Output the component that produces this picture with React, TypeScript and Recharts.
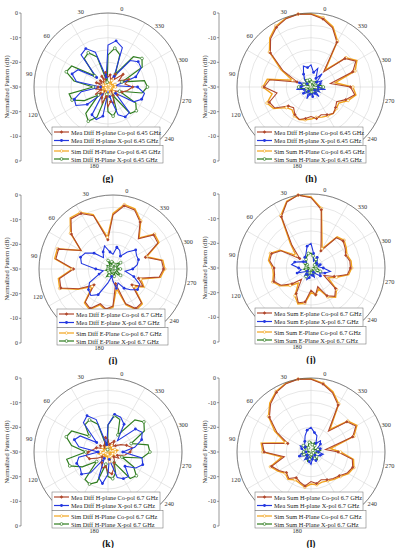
import React from "react";
import {
  PolarAngleAxis,
  PolarGrid,
  PolarRadiusAxis,
  Radar,
  RadarChart,
} from "recharts";

const angles = [0, 10, 20, 30, 40, 50, 60, 70, 80, 90, 100, 110, 120, 130, 140, 150, 160, 170, 180, 190, 200, 210, 220, 230, 240, 250, 260, 270, 280, 290, 300, 310, 320, 330, 340, 350];
const gridAngles = [0, 30, 60, 90, 120, 150, 180, 210, 240, 270, 300, 330];
const shownAngleLabels = [0, 30, 60, 90, 120, 180, 240, 270, 300, 330];
const dbTicks = [0, -10, -20, -30, -20, -10, 0];

// (g) Diff H-plane 6.45 GHz
const gMeaCo = [-24, -27, -25, -28, -26, -27, -25, -28, -26, -25, -27, -24, -26, -28, -25, -23, -26, -22, -24, -23, -26, -28, -25, -27, -24, -22, -20, -23, -21, -25, -22, -26, -24, -27, -25, -26];
const gMeaX = [-26, -15, -12, -13, -24, -16, -14.5, -17, -27, -19, -15.5, -15, -19, -27, -17, -16, -18, -28, -26, -18, -16, -16.5, -26, -18, -15.5, -15, -18, -27, -18, -14.5, -14, -16, -25, -13, -11, -13];
const gSimCo = [-28, -29, -28, -27, -29, -28, -28, -29, -27, -28, -29, -28, -27, -28, -29, -28, -27, -26, -27, -28, -29, -28, -27, -28, -29, -28, -27, -28, -27, -28, -29, -28, -27, -28, -29, -28];
const gSimX = [-28, -17, -14, -15, -23, -13, -12, -16, -24, -14, -14.5, -19, -25, -16, -14, -17, -27, -20, -18, -20, -26, -16, -15, -17, -25, -16, -14, -15, -24, -14, -12, -14, -24, -16, -14, -17];

// (h) Sum H-plane 6.45 GHz
const hMeaCo = [0, -0.5, -2, -4.5, -8.5, -17, -24, -13, -11, -16, -12, -13, -18, -19, -17, -16, -17, -18, -17, -18, -17, -16, -17, -18, -15, -12, -14, -22, -12, -9, -12, -22, -9, -4.5, -2, -0.5];
const hMeaX = [-22, -21, -24, -26, -28, -27, -25, -27, -26, -24, -27, -28, -26, -27, -28, -25, -27, -28, -26, -28, -27, -25, -28, -26, -27, -24, -27, -28, -26, -25, -27, -23, -26, -22, -24, -21];
const hSimCo = [0, -0.3, -1.5, -4, -8, -16, -22, -12, -10.5, -14, -11, -12.5, -17, -18, -16.5, -16, -16.5, -17, -17.5, -17, -16.5, -16, -16.5, -17, -14, -11.5, -13, -20, -11, -8.5, -11.5, -21, -8.5, -4, -1.5, -0.3];
const hSimX = [-27, -28, -27, -26, -28, -29, -27, -26, -25, -26, -28, -29, -28, -27, -28, -29, -28, -27, -28, -29, -28, -27, -28, -29, -27, -26, -25, -26, -28, -29, -28, -27, -28, -29, -28, -27];

// (i) Diff E-plane 6.7 GHz
const iMeaCo = [-18, -7, -4, -3.5, -8, -15, -6.5, -6.5, -14, -8, -7.5, -14, -20, -12.5, -11.5, -15, -13.5, -15, -24, -15, -11.5, -12, -20, -16, -19, -11, -9.5, -10, -16, -9, -8.5, -14, -8, -4.5, -4, -8];
const iMeaX = [-23, -20, -22, -24, -20, -17, -16, -17, -23, -26, -24, -19, -17, -16, -18, -24, -27, -25, -22, -24, -21, -19, -17, -17.5, -21, -25, -22, -20, -19, -19, -18, -21, -24, -22, -21, -24];
const iSimCo = [-17, -6.5, -3.5, -3, -7.5, -15, -6, -6, -13.5, -7.5, -7, -13.5, -19, -12, -11, -14.5, -13, -14.5, -22, -14.5, -11, -11.5, -19, -15.5, -18, -10.5, -9, -9.5, -15.5, -8.5, -8, -13.5, -7.5, -4, -3.5, -7.5];
const iSimX = [-27, -28, -26, -28, -29, -27, -28, -29, -28, -27, -28, -29, -28, -26, -27, -28, -29, -28, -27, -28, -29, -27, -26, -28, -29, -28, -27, -28, -29, -28, -26, -27, -28, -29, -28, -27];

// (j) Sum E-plane 6.7 GHz
const jMeaCo = [0, -1.5, -6, -18, -24, -16, -13, -13, -15, -15, -14, -16, -20, -24, -18, -15, -16, -21, -19, -22, -17, -15, -17, -24, -20, -15, -14, -14, -15, -14, -13, -14, -22, -18, -6, -1.5];
const jMeaX = [-21, -24, -25, -27, -26, -25, -23, -22, -25, -26, -24, -27, -28, -26, -27, -25, -26, -28, -27, -26, -28, -27, -25, -26, -24, -22, -25, -27, -26, -28, -27, -26, -25, -27, -24, -20];
const jSimCo = [0, -1.2, -5.5, -17, -22, -15.5, -12.5, -12.5, -14.5, -14.5, -13.5, -15.5, -19, -22, -17, -14.5, -15.5, -20, -19, -21, -16.5, -14.5, -16.5, -22, -19, -14.5, -13.5, -13.5, -14.5, -13.5, -12.5, -13.5, -21, -17, -5.5, -1.2];
const jSimX = [-24, -25, -26, -27, -28, -27, -28, -29, -28, -27, -28, -29, -28, -27, -26, -27, -28, -29, -28, -27, -28, -29, -28, -27, -26, -27, -28, -29, -28, -27, -28, -27, -26, -27, -25, -24];

// (k) Diff H-plane 6.7 GHz
const kMeaCo = [-24, -26, -27, -28, -26, -27, -25, -24, -22, -21, -22, -25, -27, -26, -25, -23, -24, -22, -21, -23, -25, -26, -27, -25, -26, -23, -21, -20, -22, -24, -26, -27, -25, -26, -27, -25];
const kMeaX = [-27, -16, -13, -14.5, -24, -17, -15.5, -18, -26, -18, -16.5, -17, -16, -19, -27, -19, -17, -21, -27, -19, -17.5, -17, -21, -17, -15, -16, -24, -19, -15.5, -14, -15.5, -24, -17, -15, -14.5, -19];
const kSimCo = [-28, -27, -29, -28, -27, -28, -29, -28, -27, -26, -27, -28, -29, -28, -27, -28, -29, -27, -26, -27, -28, -29, -28, -27, -28, -29, -27, -26, -27, -28, -29, -28, -27, -28, -29, -28];
const kSimX = [-29, -18, -15, -15.5, -20, -13, -12, -15, -21, -13, -13.5, -18, -24, -15.5, -15, -17, -25, -20, -19, -21, -25, -16, -15, -18, -24, -16, -13, -13.5, -20, -13, -11, -13, -22, -16, -15, -19];

// (l) Sum H-plane 6.7 GHz
const lMeaCo = [0, -0.5, -2, -4.5, -8, -14, -20, -10, -11, -19, -13, -15, -17, -16, -18, -17, -16, -18, -17, -18, -17, -16, -15, -13, -12, -13, -19, -24, -12, -9, -11, -19, -8, -4.5, -2, -0.5];
const lMeaX = [-21, -23, -25, -26, -27, -25, -26, -27, -28, -26, -25, -27, -28, -26, -27, -28, -26, -25, -27, -28, -26, -27, -28, -27, -26, -25, -27, -28, -26, -27, -25, -24, -26, -23, -22, -20];
const lSimCo = [0, -0.3, -1.7, -4, -7.5, -13, -19, -9.5, -10.5, -18, -12.5, -14.5, -16.5, -15.5, -17, -16.5, -15.5, -17, -16.5, -17, -16.5, -15.5, -14.5, -12.5, -11.5, -12.5, -18, -22, -11.5, -8.5, -10.5, -18, -7.5, -4, -1.7, -0.3];
const lSimX = [-26, -27, -28, -27, -26, -27, -28, -29, -27, -26, -27, -28, -29, -28, -27, -26, -27, -28, -29, -28, -27, -26, -27, -28, -29, -28, -27, -26, -27, -28, -29, -28, -27, -26, -27, -26];

const gLegend = ["Mea Diff H-plane Co-pol 6.45 GHz", "Mea Diff H-plane X-pol 6.45 GHz", "Sim Diff H-Plane Co-pol 6.45 GHz", "Sim Diff H-Plane X-pol 6.45 GHz"];
const hLegend = ["Mea Diff H-plane Co-pol 6.45 GHz", "Mea Diff H-plane X-pol 6.45 GHz", "Sim Sum H-Plane Co-pol 6.45 GHz", "Sim Sum H-Plane X-pol 6.45 GHz"];
const iLegend = ["Mea Diff E-plane Co-pol 6.7 GHz", "Mea Diff E-plane X-pol 6.7  GHz", "Sim Diff E-Plane Co-pol 6.7 GHz", "Sim Diff E-Plane X-pol 6.7 GHz"];
const jLegend = ["Mea Sum E-plane Co-pol 6.7 GHz", "Mea Sum E-plane X-pol 6.7  GHz", "Sim Sum E-Plane Co-pol 6.7 GHz", "Sim Sum E-Plane X-pol 6.7 GHz"];
const kLegend = ["Mea Diff H-plane Co-pol 6.7 GHz", "Mea Diff H-plane X-pol 6.7 GHz", "Sim Diff H-Plane Co-pol 6.7 GHz", "Sim Diff H-Plane X-pol 6.7 GHz"];
const lLegend = ["Mea Sum H-plane Co-pol 6.7 GHz", "Mea Sum H-plane X-pol 6.7 GHz", "Sim Sum H-Plane Co-pol 6.7 GHz", "Sim Sum H-Plane X-pol 6.7 GHz"];

const FONT = "'Liberation Serif', 'DejaVu Serif', serif";
const R = 74;
const CY = 87;
const colors = { mc: "#b0472c", mx: "#2337e0", sc: "#f2a41c", sx: "#2f7d1f" };
const kinds = ["mc", "mx", "sc", "sx"] as const;

function marker(kind: string, x: number, y: number, key?: any) {
  const c = (colors as any)[kind];
  if (kind === "mc") return <rect key={key} x={x - 1.2} y={y - 1.2} width={2.4} height={2.4} fill={c} transform={`rotate(45 ${x} ${y})`} />;
  if (kind === "mx") return <circle key={key} cx={x} cy={y} r={1.4} fill={c} />;
  if (kind === "sc") return <circle key={key} cx={x} cy={y} r={1.3} fill="#fff" stroke={c} strokeWidth={0.6} />;
  return <circle key={key} cx={x} cy={y} r={1.4} fill="#fff" stroke={c} strokeWidth={0.7} />;
}

const makeDot = (kind: string) => (p: any) => {
  if (p.index % 2 !== 0 || p.cx == null) return <g key={p.index} />;
  return marker(kind, p.cx, p.cy, p.index);
};

const angleTick = (p: any) => {
  const v = Number(p.payload.value);
  if (!shownAngleLabels.includes(v)) return <g />;
  return (
    <text x={p.x} y={p.y} textAnchor="middle" dominantBaseline="central" fontSize={6.3} fill="#333" fontFamily={FONT}>
      {v}
    </text>
  );
};

type PanelProps = {
  left: number;
  top: number;
  cx: number;
  tag: string;
  legend: string[];
  mc: number[];
  mx: number[];
  sc: number[];
  sx: number[];
};

function Panel({ left, top, cx, tag, legend, mc, mx, sc, sx }: PanelProps) {
  const data = angles.map((a, i) => ({ ang: a, mc: mc[i], mx: mx[i], sc: sc[i], sx: sx[i] }));
  const ringR = [1, 2, 3, 4, 5, 6].map((k) => (R * k) / 6);
  const axX = 21;
  const yOf = (i: number) => CY - R + (i * R) / 3;
  const lx = cx - 56;
  const lw = 111;
  const rows = [CY + 45, CY + 53.5, CY + 64, CY + 72];
  return (
    <div style={{ position: "absolute", left, top, width: 199, height: 183 }}>
      <RadarChart
        width={199}
        height={183}
        data={data}
        cx={cx}
        cy={CY}
        outerRadius={R}
        startAngle={90}
        endAngle={450}
        margin={{ top: 0, right: 0, bottom: 0, left: 0 }}
      >
        <PolarGrid gridType="circle" polarRadius={ringR} polarAngles={gridAngles} stroke="#cfcfcf" strokeWidth={0.5} />
        <PolarAngleAxis
          dataKey="ang"
          tick={angleTick}
          tickLine={false}
          tickSize={6}
          axisLineType="circle"
          axisLine={{ stroke: "#555", strokeWidth: 0.7 }}
        />
        <PolarRadiusAxis domain={[-30, 0]} type="number" tick={false} axisLine={false} allowDataOverflow />
        <Radar dataKey="sc" stroke={colors.sc} strokeWidth={1.4} fill="none" dot={makeDot("sc")} isAnimationActive={false} />
        <Radar dataKey="sx" stroke={colors.sx} strokeWidth={1.2} fill="none" dot={makeDot("sx")} isAnimationActive={false} />
        <Radar dataKey="mc" stroke={colors.mc} strokeWidth={1.1} fill="none" dot={makeDot("mc")} isAnimationActive={false} />
        <Radar dataKey="mx" stroke={colors.mx} strokeWidth={1.1} fill="none" dot={makeDot("mx")} isAnimationActive={false} />
      </RadarChart>
      <svg width={199} height={183} style={{ position: "absolute", left: 0, top: 0, pointerEvents: "none" }} fontFamily={FONT}>
        <line x1={axX} x2={axX} y1={CY - R} y2={CY + R} stroke="#555" strokeWidth={0.6} />
        {dbTicks.map((t, i) => (
          <g key={i}>
            <line x1={axX - 2} x2={axX} y1={yOf(i)} y2={yOf(i)} stroke="#555" strokeWidth={0.6} />
            <text x={axX - 3} y={yOf(i)} textAnchor="end" dominantBaseline="central" fontSize={6} fill="#333">
              {t}
            </text>
          </g>
        ))}
        <text x={6} y={CY} transform={`rotate(-90 6 ${CY})`} textAnchor="middle" dominantBaseline="central" fontSize={6.4} fill="#333">
          Normalized Pattern (dB)
        </text>
        <rect x={lx} y={CY + 40} width={lw - 3} height={18.5} fill="#fff" stroke="#666" strokeWidth={0.5} />
        <rect x={lx} y={CY + 58.5} width={lw} height={17.5} fill="#fff" stroke="#666" strokeWidth={0.5} />
        {legend.map((t, i) => (
          <g key={i}>
            <line x1={lx + 2} x2={lx + 17} y1={rows[i]} y2={rows[i]} stroke={(colors as any)[kinds[i]]} strokeWidth={1.2} />
            {marker(kinds[i], lx + 9.5, rows[i])}
            <text x={lx + 19} y={rows[i]} dominantBaseline="central" fontSize={6.3} fill="#222">
              {t}
            </text>
          </g>
        ))}
        <text x={cx} y={CY + 92} textAnchor="middle" dominantBaseline="central" fontSize={9.5} fontWeight="bold" fill="#111">
          {tag}
        </text>
      </svg>
    </div>
  );
}

export default function App() {
  return (
    <div style={{ position: "absolute", left: 0, top: 0, width: 398, height: 550, background: "#fff", fontFamily: FONT }}>
      <Panel left={0} top={0} cx={108} tag="(g)" legend={gLegend} mc={gMeaCo} mx={gMeaX} sc={gSimCo} sx={gSimX} />
      <Panel left={198} top={0} cx={113} tag="(h)" legend={hLegend} mc={hMeaCo} mx={hMeaX} sc={hSimCo} sx={hSimX} />
      <Panel left={0} top={182} cx={113} tag="(i)" legend={iLegend} mc={iMeaCo} mx={iMeaX} sc={iSimCo} sx={iSimX} />
      <Panel left={198} top={181} cx={113} tag="(j)" legend={jLegend} mc={jMeaCo} mx={jMeaX} sc={jSimCo} sx={jSimX} />
      <Panel left={0} top={365} cx={108} tag="(k)" legend={kLegend} mc={kMeaCo} mx={kMeaX} sc={kSimCo} sx={kSimX} />
      <Panel left={198} top={365} cx={113} tag="(l)" legend={lLegend} mc={lMeaCo} mx={lMeaX} sc={lSimCo} sx={lSimX} />
    </div>
  );
}
